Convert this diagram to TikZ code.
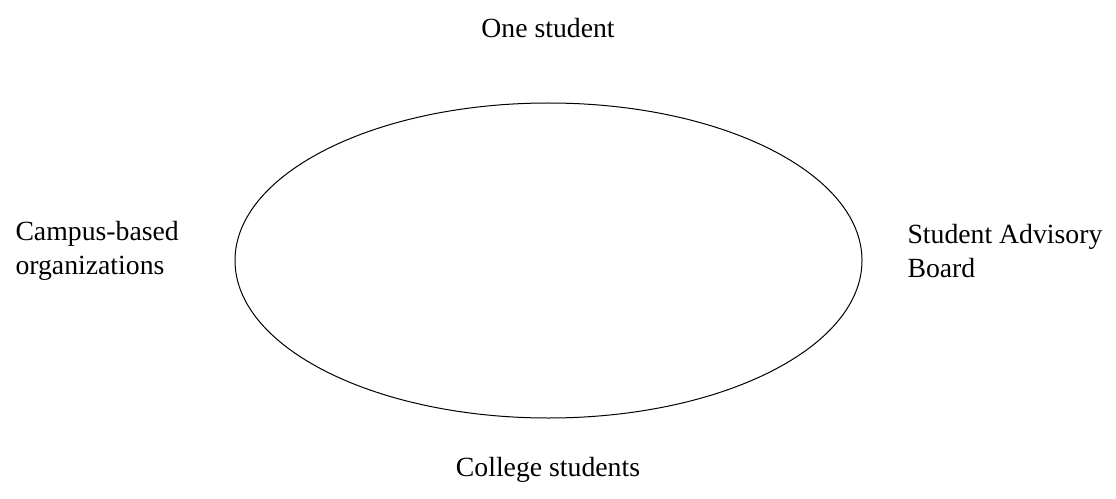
\documentclass[tikz,border=0pt]{standalone}
\usepackage{fontspec}
\setmainfont{Liberation Serif}
\tikzset{every picture/.style={line width=0.75pt}}
\tikzset{lbl/.style={font=\fontsize{20.8}{26}\selectfont, inner sep=0pt}}

\begin{document}
\begin{tikzpicture}[x=0.75pt,y=0.75pt,yscale=-1,xscale=1]
\useasboundingbox (0,0) rectangle (1116,499);

%Shape: Ellipse [id:ring]
\draw (548.5,260.5) ellipse (313.5 and 157.5);

% Text Node
\node[lbl] (top) at (548,28) {One student};
% Text Node
\node[lbl, anchor=west, align=left] (left) at (15,251) {Campus-based\\organizations};
% Text Node
\node[lbl, anchor=west, align=left] (right) at (907,251) {Student Advisory\\Board};
% Text Node
\node[lbl] (bottom) at (548,470) {College students};

\end{tikzpicture}
\end{document}
